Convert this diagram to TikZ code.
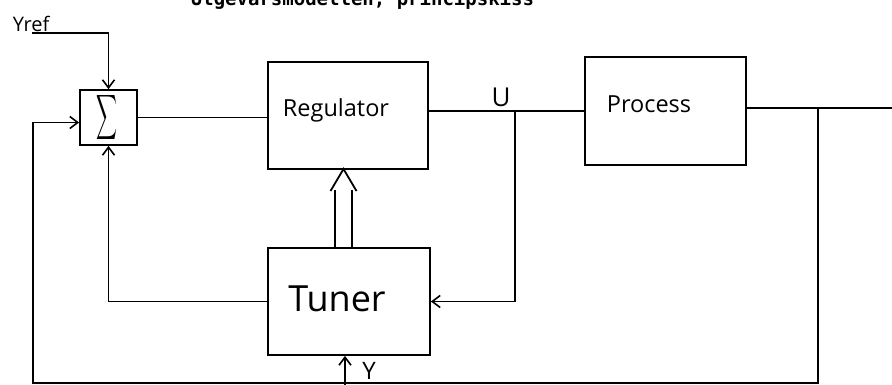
\documentclass[tikz,border=0pt]{standalone}
\usepackage{fontspec}
\setmainfont{Open Sans}
\newfontfamily\titlefont{DejaVu Sans Mono}
\usetikzlibrary{arrows.meta,calc}
\begin{document}
\begin{tikzpicture}[x=1pt,y=-1pt,line width=1.8pt,
  blockbox/.style={draw,line width=1.8pt,inner sep=0pt},
  arr/.style={-{Straight Barb[length=8pt,width=12pt,line width=1.6pt]}},
  lbl/.style={inner sep=0pt}]
\useasboundingbox (0,0) rectangle (892,385);
\clip (0,0) rectangle (892,385);
% title (cut off at the top)
\node[lbl,anchor=base west,font=\titlefont\bfseries\fontsize{19}{22}\selectfont] (title) at (190,6) {Utgevarsmodellen, principskiss};
% blocks
\node[blockbox,minimum width=57pt,minimum height=55pt] (sum) at (108.5,117.5) {};
\node[lbl] (sigma) at ([xshift=-1pt]sum.center) {\resizebox{21pt}{33pt}{$\displaystyle\sum$}};
\node[blockbox,minimum width=160pt,minimum height=107pt] (reg) at (348,115.5) {};
\node[lbl,font=\fontsize{23.5}{26}\selectfont] (reglbl) at (336,110) {Regulator};
\node[blockbox,minimum width=161pt,minimum height=108pt] (proc) at (665.5,111) {};
\node[lbl,font=\fontsize{23.5}{26}\selectfont] (proclbl) at (649,104) {Process};
\node[blockbox,minimum width=162pt,minimum height=107pt] (tuner) at (349,301.5) {};
\node[lbl,font=\fontsize{36}{40}\selectfont] (tunerlbl) at (337,299) {Tuner};
% labels
\node[lbl,anchor=base west,font=\fontsize{20}{22}\selectfont] (yref) at (12,32) {Yref};
\node[lbl,font=\fontsize{26}{28}\selectfont] (ulbl) at (501,97) {U};
\node[lbl,font=\fontsize{24}{26}\selectfont] (ylbl) at (369,371) {Y};
% coordinates
\coordinate (yrefL) at (32,33);
\coordinate (br) at (515,111);
\coordinate (out) at (892,108);
\coordinate (tap) at (818,108);
\coordinate (bl) at (33,383);
\coordinate (yin) at (345,390);
\coordinate (apex) at (343.5,169);
% connectors
\draw[arr] (yrefL) -| (sum.north);
\draw (sum.east) -- (sum.east -| reg.west);
\draw (reg.east |- br) -- (proc.west |- br);
\draw[arr] (br) |- (tuner.east);
\draw (proc.east |- out) -- (out);
\draw[arr] (tap) |- (bl) |- ([yshift=-5pt]sum.west);
\draw[arr] (tuner.west) -| (sum.south);
\draw[arr] (yin) -- (yin |- tuner.south);
% double arrow tuner -> regulator
\draw (tuner.north -| {$(apex)+(-8.5,0)$}) -- ($(apex)+(-8.5,21)$);
\draw (tuner.north -| {$(apex)+(8.5,0)$}) -- ($(apex)+(8.5,21)$);
\draw[line join=miter] ($(apex)+(-13,22)$) -- (apex) -- ($(apex)+(13,22)$);
\end{tikzpicture}
\end{document}
